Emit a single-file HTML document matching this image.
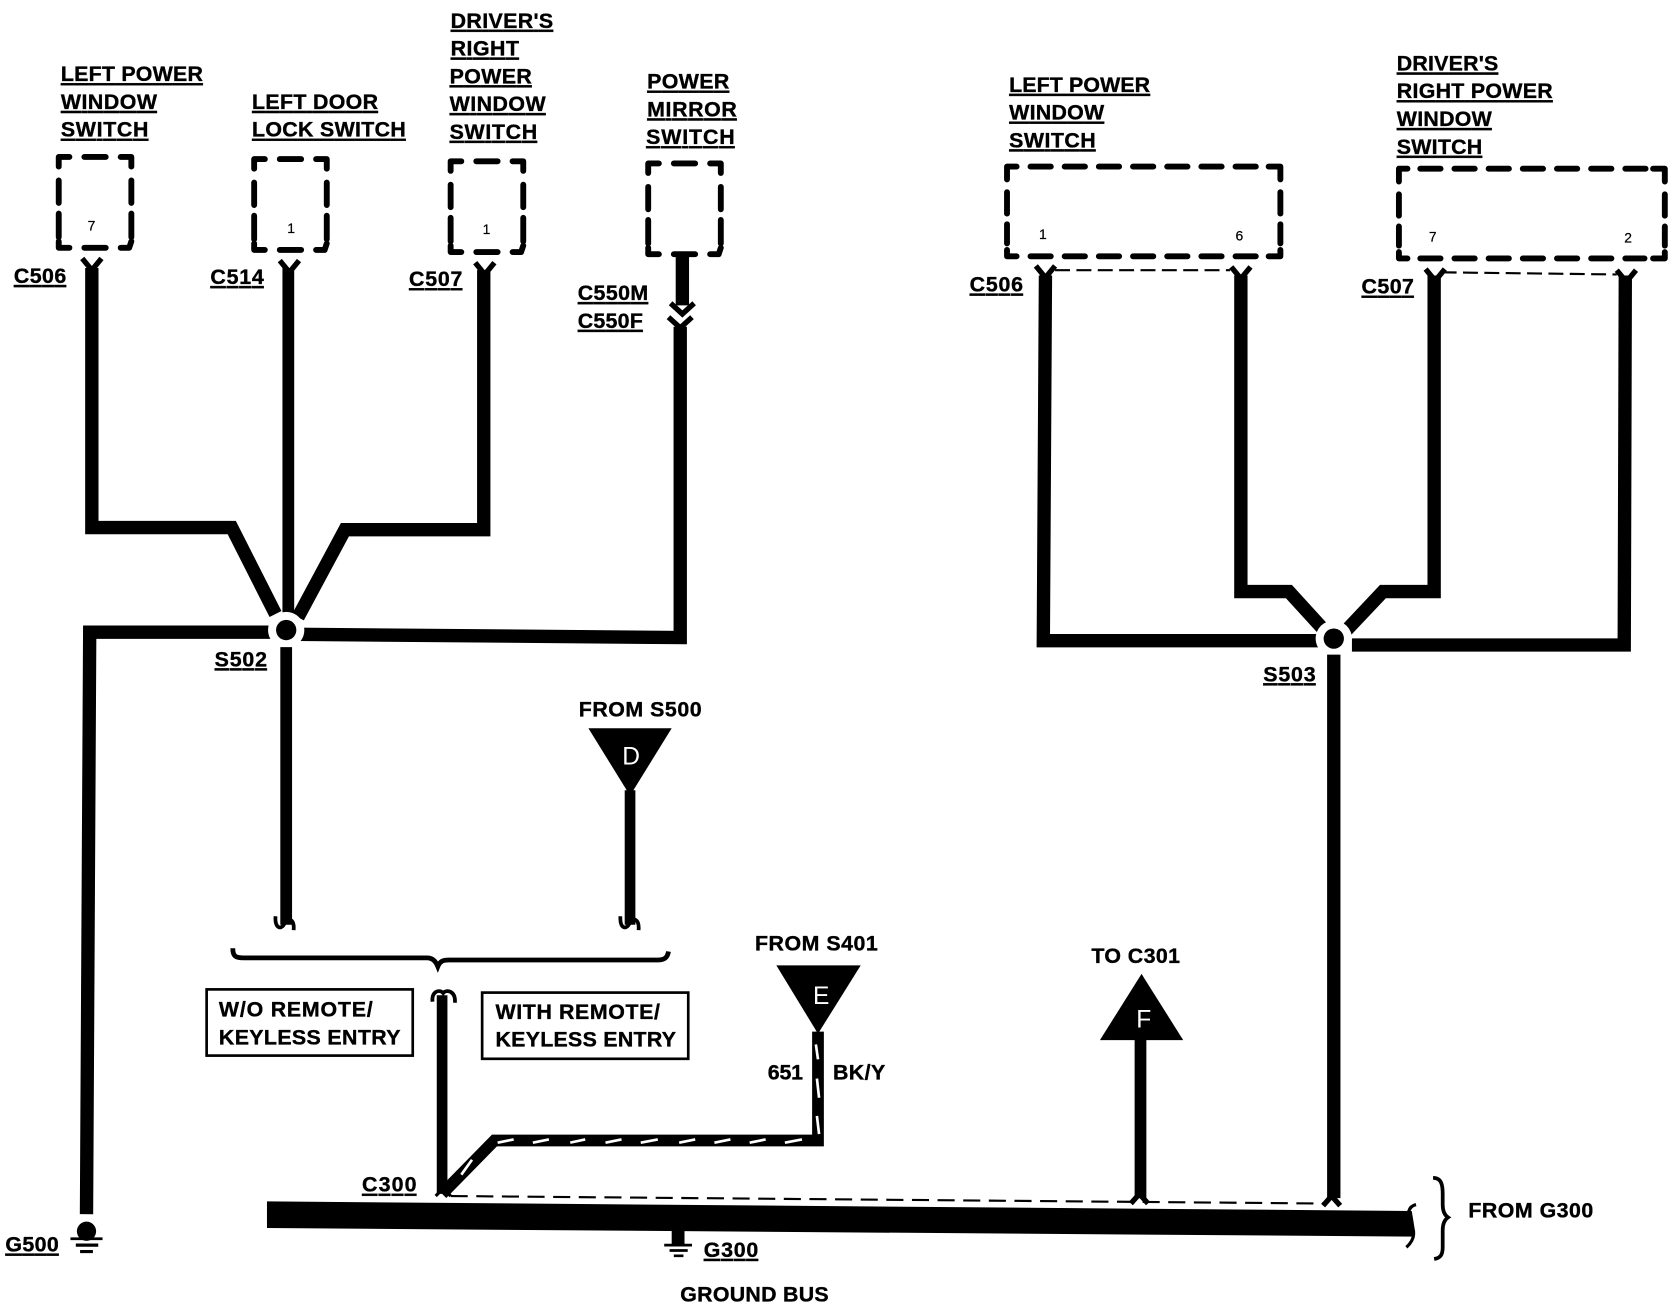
<!DOCTYPE html>
<html><head><meta charset="utf-8"><style>
html,body{margin:0;padding:0;background:#fff}
svg{display:block}
text{font-family:"Liberation Sans",sans-serif;font-weight:bold;font-size:20px;fill:#000;stroke:#000;stroke-width:.35}
.u{text-decoration:underline}
.n{font-size:13px;font-weight:normal;stroke-width:.2}
.l{fill:#fff;stroke:none;font-weight:normal;font-size:23px}
.w{fill:none;stroke:#000;stroke-width:12.5;stroke-linejoin:miter}
.d{fill:none;stroke:#000;stroke-width:5.5;stroke-linecap:round;stroke-linejoin:round}
.t{fill:none;stroke:#000;stroke-width:2}
.f{fill:none;stroke:#000;stroke-width:5}
</style></head><body>
<svg width="1674" height="1312" viewBox="0 0 1567.6 1228.6" xmlns="http://www.w3.org/2000/svg">
<rect width="1568" height="1229" fill="#fff"/>
<defs>
<g id="sb"><path class="d" d="M0,9V0H10M24,0H44M58,0H68V9M0,22V43M0,53V75M68,22V43M68,53V75M0,79V85H10M24,85H44M58,85H66L68,79"/></g>
<path id="fk" class="f" d="M-9,-9L0,2L9,-9"/>
<path id="hk" fill="none" stroke="#000" stroke-width="3.5" d="M-9,-8C-10,5 -2,5 0,-3C2,-7 9,-6 8,5"/>
</defs>

<!-- left switch boxes -->
<use href="#sb" x="55" y="147"/>
<use href="#sb" x="238" y="149"/>
<use href="#sb" x="422" y="151"/>
<use href="#sb" x="607" y="153"/>
<text class="n" x="82" y="216">7</text>
<text class="n" x="269" y="218">1</text>
<text class="n" x="452" y="219">1</text>

<!-- right switch boxes -->
<path class="d" d="M943,168V156H952"/><path class="d" d="M965,156H1186" stroke-dasharray="19 13"/><path class="d" d="M1188,156H1199V168"/>
<path class="d" d="M943,180V200M943,210V228M943,234V240H952M1199,180V200M1199,210V228M1199,234V240H1188"/><path class="d" d="M965,240H1180" stroke-dasharray="19 13"/>
<path class="d" d="M1310,170V158H1318"/><path class="d" d="M1330,158H1546" stroke-dasharray="19 13"/><path class="d" d="M1548,158H1559V170"/>
<path class="d" d="M1310,182V202M1310,212V230M1310,236V242H1318M1559,182V202M1559,212V230M1559,236V242H1548"/><path class="d" d="M1330,242H1540" stroke-dasharray="19 13"/>
<text class="n" x="973" y="224">1</text><text class="n" x="1157" y="225">6</text><text class="n" x="1338" y="226">7</text><text class="n" x="1521" y="227">2</text>

<!-- left wires -->
<path class="w" d="M86,251V494H217L258,575"/>
<path class="w" style="stroke-width:11" d="M270,251V582"/>
<path class="w" d="M453,253V496H323L279,578"/>
<path class="w" d="M639,238V286"/>
<path class="w" d="M637,306V597L278,594"/>
<path class="w" d="M81,1137L84,592H258"/>
<circle cx="268" cy="590" r="17" fill="#fff"/><circle cx="268" cy="590" r="9.5" fill="#000"/>
<path class="w" style="stroke-width:11" d="M268,606V866"/>
<use href="#fk" x="86" y="251"/><use href="#fk" x="271" y="253"/><use href="#fk" x="454" y="255"/>
<path class="f" d="M628,284L639,294L650,284"/><path class="f" d="M626,297L637,307L648,297"/>
<use href="#hk" x="267" y="866"/><use href="#hk" x="590" y="866"/>

<!-- right wires -->
<path class="w" d="M979,258L977,600H1240"/>
<path class="w" d="M1162,258V554H1207L1238,588"/>
<path class="w" d="M1343,258V554H1295L1261,590"/>
<path class="w" d="M1522,258L1521,604H1266"/>
<circle cx="1249" cy="598" r="17" fill="#fff"/><circle cx="1249" cy="598" r="9.5" fill="#000"/>
<path class="w" d="M1249,613V1122"/>
<use href="#fk" x="979" y="258"/><use href="#fk" x="1162" y="259"/><use href="#fk" x="1344" y="261"/><use href="#fk" x="1523" y="262"/>
<path class="t" d="M988,253H1152" stroke-dasharray="14 6"/>
<path class="t" d="M1350,255L1514,257" stroke-dasharray="14 6"/>

<!-- triangles -->
<polygon points="551,682 629,682 590,745"/>
<path class="w" style="stroke-width:10" d="M590,740V866"/>
<text class="l" x="591" y="716" text-anchor="middle">D</text>
<polygon points="727,904 806,904 766,968"/>
<text class="l" x="769" y="940" text-anchor="middle">E</text>
<polygon points="1069,912 1030,974 1108,974"/>
<text class="l" x="1071" y="962" text-anchor="middle">F</text>
<path class="w" style="stroke-width:11" d="M1068,970V1122"/>

<!-- brace -->
<path fill="none" stroke="#000" stroke-width="4.5" d="M218,888C218,895 220,897 228,897H400C405,897 408,900 410,905C412,900 415,899 420,899H616C622,899 625,897 626,891"/>
<!-- boxes -->
<rect x="193.5" y="926.5" width="193" height="62" fill="none" stroke="#000" stroke-width="2.5"/>
<rect x="451.5" y="929.5" width="193" height="62" fill="none" stroke="#000" stroke-width="2.5"/>

<!-- C300 wires -->
<path class="w" style="stroke-width:10" d="M414,932V1118"/>
<path fill="none" stroke="#000" stroke-width="3.5" d="M405,938C404,928 412,926 415,930C418,926 427,928 426,939"/>
<path class="w" style="stroke-width:11" d="M766,966V1068H463L414,1118"/>
<path fill="none" stroke="#fff" stroke-width="2.5" d="M764,978L766,992M765,1010L767,1028M765,1045L767,1062M466,1070L481,1067M499,1070L514,1067M534,1070L548,1067M567,1070L582,1067M600,1070L616,1067M636,1070L651,1067M669,1070L684,1067M702,1070L717,1067M735,1070L751,1067M432,1100L442,1086"/>
<path class="t" d="M422,1120L1240,1127" stroke-dasharray="16 8"/>
<path class="f" d="M408,1120L415,1113L422,1120" style="stroke-width:3"/>
<path class="f" d="M1059,1127L1067,1118L1075,1127"/>
<path class="f" d="M1239,1129L1247,1120L1255,1129"/>

<!-- ground bus -->
<polygon points="250,1125 1322,1134 1326,1158 250,1150"/>
<path fill="#fff" d="M1320,1128H1332V1170H1320C1326,1158 1326,1142 1320,1128Z"/>
<path fill="none" stroke="#000" stroke-width="3" d="M1326,1128C1318,1130 1318,1138 1320,1142C1325,1152 1326,1160 1317,1168"/>
<path fill="none" stroke="#000" stroke-width="3.5" d="M1342,1103C1350,1103 1351,1110 1351,1118V1128C1351,1134 1353,1138 1356,1140C1353,1142 1351,1146 1351,1152V1168C1351,1175 1349,1178 1343,1179"/>

<!-- grounds -->
<circle cx="81" cy="1153" r="9"/>
<path stroke="#000" stroke-width="2.5" fill="none" d="M66,1160H96"/>
<path stroke="#000" stroke-width="3" fill="none" d="M71,1166H92M75,1172H87"/>
<rect x="629" y="1152" width="12" height="14"/>
<path stroke="#000" stroke-width="2.5" fill="none" d="M622,1166H648M627,1171H644M631,1176H640"/>

<!-- labels -->
<text class="u" x="57" y="76" textLength="133">LEFT POWER</text>
<text class="u" x="57" y="102" textLength="90">WINDOW</text>
<text class="u" x="57" y="128" textLength="82">SWITCH</text>
<text class="u" x="236" y="102" textLength="118">LEFT DOOR</text>
<text class="u" x="236" y="128" textLength="144">LOCK SWITCH</text>
<text class="u" x="422" y="26" textLength="96">DRIVER'S</text>
<text class="u" x="422" y="52" textLength="64">RIGHT</text>
<text class="u" x="421" y="78" textLength="77">POWER</text>
<text class="u" x="421" y="104" textLength="90">WINDOW</text>
<text class="u" x="421" y="130" textLength="82">SWITCH</text>
<text class="u" x="606" y="83" textLength="77">POWER</text>
<text class="u" x="606" y="109" textLength="84">MIRROR</text>
<text class="u" x="605" y="135" textLength="83">SWITCH</text>
<text class="u" x="13" y="265" textLength="49">C506</text>
<text class="u" x="197" y="266" textLength="50">C514</text>
<text class="u" x="383" y="268" textLength="50">C507</text>
<text class="u" x="541" y="281" textLength="66">C550M</text>
<text class="u" x="541" y="307" textLength="61">C550F</text>
<text class="u" x="201" y="624" textLength="49">S502</text>
<text class="u" x="945" y="86" textLength="132">LEFT POWER</text>
<text class="u" x="945" y="112" textLength="89">WINDOW</text>
<text class="u" x="945" y="138" textLength="81">SWITCH</text>
<text class="u" x="1308" y="66" textLength="95">DRIVER'S</text>
<text class="u" x="1308" y="92" textLength="146">RIGHT POWER</text>
<text class="u" x="1308" y="118" textLength="89">WINDOW</text>
<text class="u" x="1308" y="144" textLength="80">SWITCH</text>
<text class="u" x="908" y="273" textLength="50">C506</text>
<text class="u" x="1275" y="275" textLength="49">C507</text>
<text class="u" x="1183" y="638" textLength="49">S503</text>
<text x="542" y="671" textLength="115">FROM S500</text>
<text x="707" y="890" textLength="115">FROM S401</text>
<text x="1022" y="902" textLength="83">TO C301</text>
<text x="1375" y="1140" textLength="117">FROM G300</text>
<text x="637" y="1219" textLength="139">GROUND BUS</text>
<text class="u" x="659" y="1177" textLength="51">G300</text>
<text class="u" x="339" y="1116" textLength="51">C300</text>
<text class="u" x="5" y="1172" textLength="50">G500</text>
<text x="719" y="1011" textLength="33">651</text>
<text x="780" y="1011" textLength="49">BK/Y</text>
<text x="205" y="952" textLength="144">W/O REMOTE/</text>
<text x="205" y="978" textLength="170">KEYLESS ENTRY</text>
<text x="464" y="954" textLength="154">WITH REMOTE/</text>
<text x="464" y="980" textLength="169">KEYLESS ENTRY</text>
</svg>
</body></html>
